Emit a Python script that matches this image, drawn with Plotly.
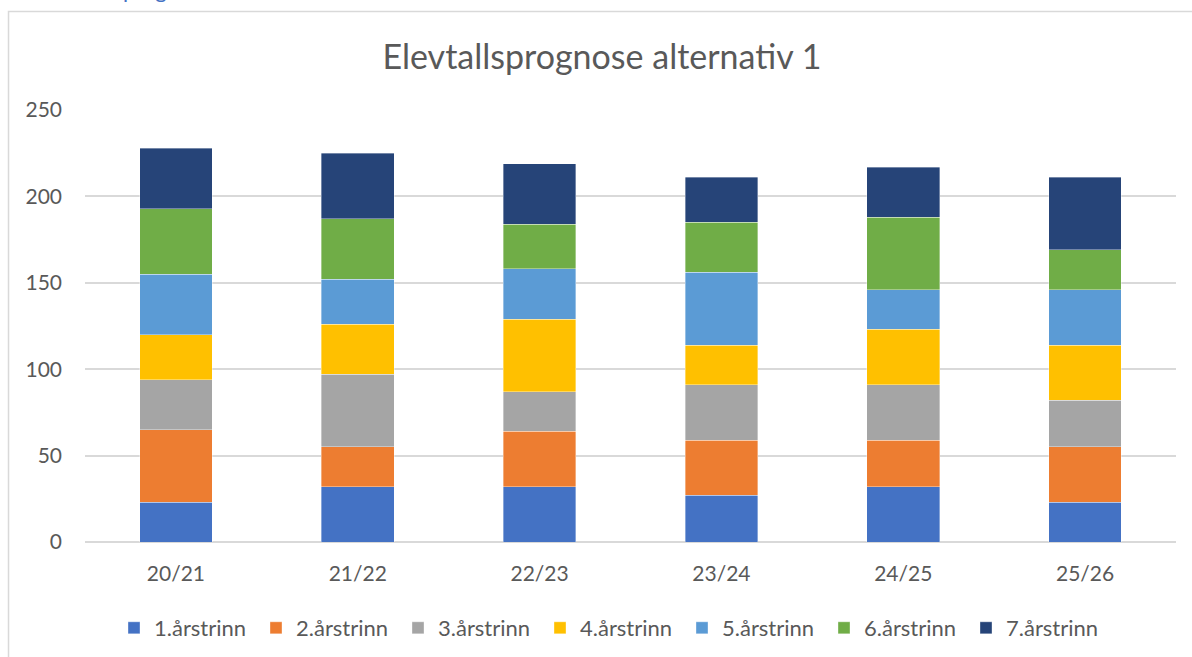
import plotly.graph_objects as go

categories = ["20/21", "21/22", "22/23", "23/24", "24/25", "25/26"]
series_names = ["1.årstrinn", "2.årstrinn", "3.årstrinn", "4.årstrinn",
                "5.årstrinn", "6.årstrinn", "7.årstrinn"]
trinn1 = [23, 32, 32, 27, 32, 23]
trinn2 = [42, 23, 32, 32, 27, 32]
trinn3 = [29, 42, 23, 32, 32, 27]
trinn4 = [26, 29, 42, 23, 32, 32]
trinn5 = [35, 26, 29, 42, 23, 32]
trinn6 = [38, 35, 26, 29, 42, 23]
trinn7 = [35, 38, 35, 26, 29, 42]
colors = ["#4472C4", "#ED7D31", "#A5A5A5", "#FFC000", "#5B9BD5", "#70AD47", "#264478"]

series_values = [trinn1, trinn2, trinn3, trinn4, trinn5, trinn6, trinn7]

FONT = "Lato, 'Open Sans', sans-serif"
TXT = "#595959"

fig = go.Figure()
for name, vals, col in zip(series_names, series_values, colors):
    fig.add_trace(go.Bar(
        x=categories, y=vals, name=name,
        marker=dict(color=col, line=dict(width=0.6, color="rgba(255,255,255,0.6)")),
    ))

fig.update_layout(
    width=1192, height=657,
    barmode="stack", bargap=0.6,
    paper_bgcolor="white", plot_bgcolor="white",
    margin=dict(l=85, r=16, t=110, b=115, autoexpand=False),
    font=dict(family=FONT, color=TXT, size=21),
    title=dict(text="Elevtallsprognose alternativ 1", x=0.505, xanchor="center",
               y=1 - 57 / 657, yanchor="middle",
               font=dict(family=FONT, size=34, color=TXT)),
    showlegend=True,
    legend=dict(orientation="h", x=(114 - 85) / 1091, xanchor="left",
                y=(542 - 628) / 432, yanchor="middle",
                traceorder="normal", font=dict(family=FONT, size=22, color=TXT),
                entrywidth=97, entrywidthmode="pixels", bgcolor="rgba(0,0,0,0)"),
    yaxis=dict(range=[0, 250], dtick=50, showgrid=True, gridcolor="#d9d9d9", gridwidth=1.5,
               zeroline=True, zerolinecolor="#d9d9d9", zerolinewidth=1.5,
               showline=False, ticks="", ticklabelstandoff=22,
               tickfont=dict(family=FONT, size=21, color=TXT)),
    xaxis=dict(showgrid=False, showline=False, ticks="", ticklabelstandoff=17,
               tickfont=dict(family=FONT, size=21, color=TXT)),
    shapes=[dict(type="rect", xref="paper", yref="paper",
                 x0=-0.0701, x1=1.1, y0=-0.3, y1=1.228,
                 line=dict(color="#d9d9d9", width=1.5), fillcolor="rgba(0,0,0,0)",
                 layer="below")],
    annotations=[dict(text="prognose", xref="paper", yref="paper",
                      x=(121 - 85) / 1091, y=(542 - 5) / 432,
                      xanchor="left", yanchor="bottom", showarrow=False,
                      font=dict(family=FONT, size=22, color="#4472C4"))],
)

fig.write_html("out.html", config={"displayModeBar": False},
               post_script="document.body.style.margin='0';")
